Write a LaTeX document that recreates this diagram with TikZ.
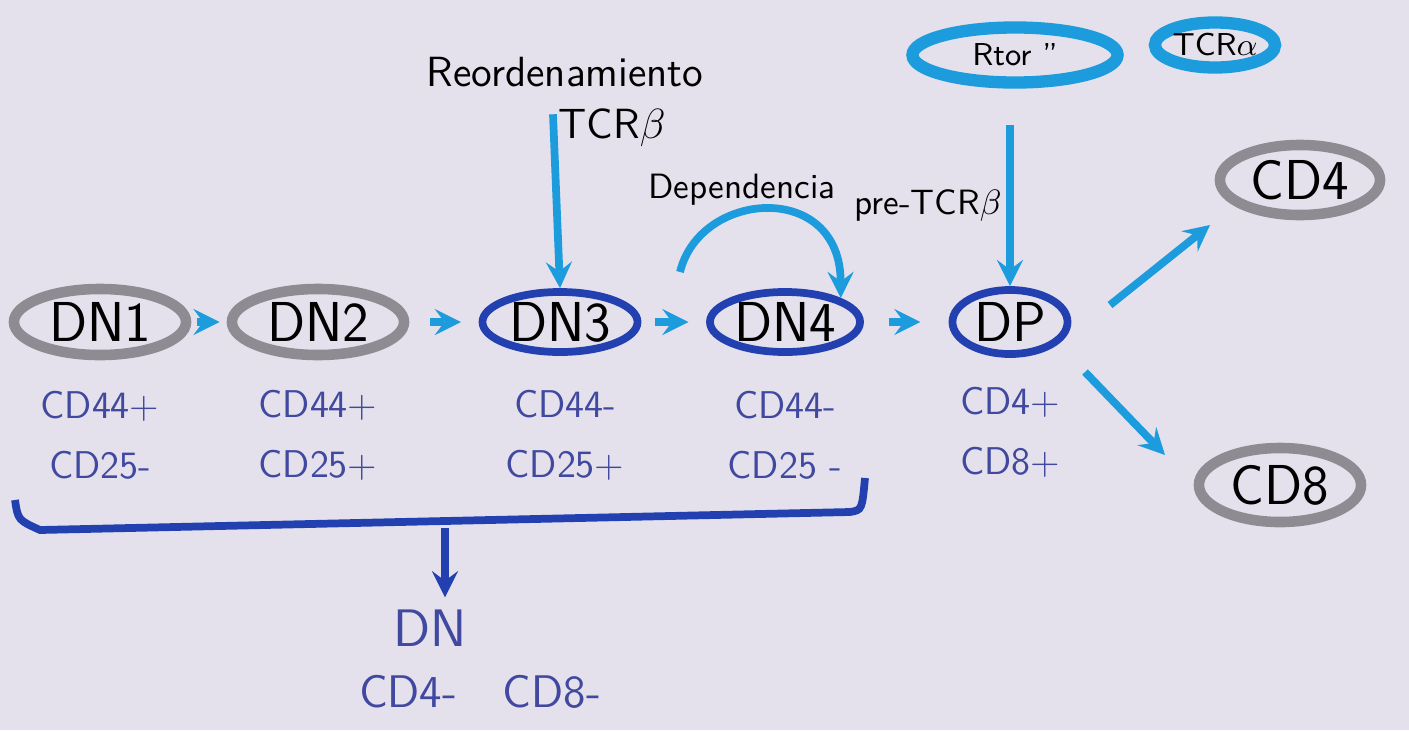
\documentclass[tikz,border=0pt]{standalone}
\usepackage{tikz}
\usetikzlibrary{arrows,shapes.geometric,backgrounds}
\definecolor{paper}{HTML}{E4E1EC}
\definecolor{lightblue}{HTML}{1C9BDD}
\definecolor{darkblue}{HTML}{2240B0}
\definecolor{penblue}{HTML}{4048A0}
\definecolor{ring}{HTML}{8E8C92}
\tikzset{
  cell/.style={ellipse,draw=ring,line width=3pt,inner sep=0pt,font=\sffamily\fontsize{16}{16}\selectfont},
  bluecell/.style={cell,draw=darkblue,line width=2.2pt},
  tag/.style={ellipse,draw=lightblue,line width=3.5pt,inner sep=0pt,font=\sffamily\fontsize{9}{9}\selectfont},
  marker/.style={font=\sffamily\fontsize{11}{12}\selectfont,text=penblue,align=center},
  note/.style={font=\sffamily\fontsize{12}{12}\selectfont},
  step arrow/.style={-stealth,draw=lightblue,line width=2.2pt},
}
\begin{document}
\begin{tikzpicture}[x=0.01cm,y=-0.01cm]
\fill[paper] (0,0) rectangle (1409,730);
\useasboundingbox (0,0) rectangle (1409,730);
% cells
\node[cell,minimum width=1.72cm,minimum height=0.66cm] (dnone) at (100,322) {DN1};
\node[cell,minimum width=1.72cm,minimum height=0.66cm] (dntwo) at (318,322) {DN2};
\node[bluecell,minimum width=1.55cm,minimum height=0.6cm] (dnthree) at (560,322) {DN3};
\node[bluecell,minimum width=1.5cm,minimum height=0.6cm] (dnfour) at (785,322) {DN4};
\node[bluecell,minimum width=1.15cm,minimum height=0.64cm] (dp) at (1010,322) {DP};
\node[cell,minimum width=1.6cm,minimum height=0.7cm] (cdfour) at (1300,180) {CD4};
\node[cell,minimum width=1.62cm,minimum height=0.74cm] (cdeight) at (1280,485) {CD8};
% markers
\node[marker] (mone) at (100,435) {CD44+\\[5pt]CD25-};
\node[marker] (mtwo) at (318,435) {CD44+\\[5pt]CD25+};
\node[marker] (mthree) at (565,435) {CD44-\\[5pt]CD25+};
\node[marker] (mfour) at (785,435) {CD44-\\[5pt]CD25 -};
\node[marker] (mdp) at (1010,432) {CD4+\\[5pt]CD8+};
% steps
\draw[step arrow,shorten <=1.5pt,shorten >=2pt] (dnone) -- (dntwo);
\draw[step arrow,shorten <=6pt,shorten >=5pt] (dntwo) -- (dnthree);
\draw[step arrow,shorten <=4pt,shorten >=5pt] (dnthree) -- (dnfour);
\draw[step arrow,shorten <=7pt,shorten >=8pt] (dnfour) -- (dp);
\coordinate (upfrom) at (1110,305);
\coordinate (downfrom) at (1085,372);
\draw[step arrow] (upfrom) -- (1210,225);
\draw[step arrow] (downfrom) -- (1165,455);
% top notes
\node[note] (reord) at (565,72) {Reordenamiento};
\node[note] (tcrb) at (612,128) {TCR$\beta$};
\draw[step arrow] (reord.south -| 553,0) ++(0,15) -- (dnthree.north);
\node[note,font=\sffamily\fontsize{10}{10}\selectfont] (dep) at (742,190) {Dependencia};
\node[note,font=\sffamily\fontsize{10}{10}\selectfont] (pretcr) at (928,205) {pre-TCR$\beta$};
\coordinate (arcstart) at (680,272);
\draw[step arrow] (arcstart) .. controls (700,190) and (840,180) .. (dnfour.north east);
\node[tag,minimum width=2.05cm,minimum height=0.55cm] (rtor) at (1015,55) {Rtor ''};
\node[tag,minimum width=1.2cm,minimum height=0.45cm] (tcra) at (1215,45) {TCR$\alpha$};
\draw[step arrow] (1010,125) -- (dp.north);
% DN group
\draw[darkblue,line width=2.2pt] (15,500) .. controls (18,520) .. (40,530) -- (850,512) .. controls (862,510) .. (865,478);
\coordinate (brace) at (445,528);
\node[marker,font=\sffamily\fontsize{15}{15}\selectfont] (dn) at (430,628) {DN};
\node[marker,font=\sffamily\fontsize{13}{13}\selectfont] (dnmark) at (480,692) {CD4-\quad CD8-};
\draw[-stealth,darkblue,line width=2.2pt] (brace) -- (dn.north -| brace);
\end{tikzpicture}
\end{document}
